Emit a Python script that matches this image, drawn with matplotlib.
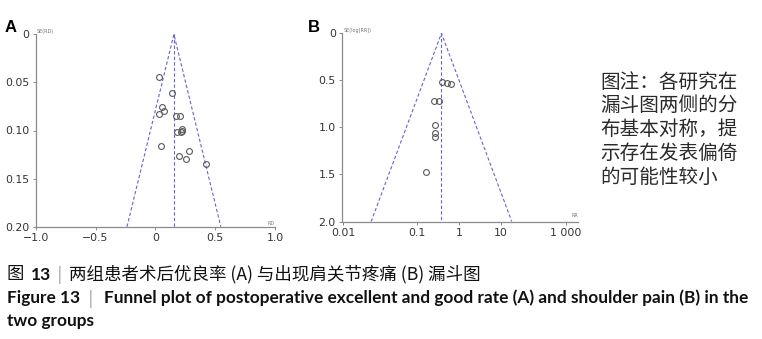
import matplotlib
matplotlib.use("Agg")
import matplotlib.pyplot as plt
import numpy as np

# ---------------- data ----------------
# Panel A: risk difference (RD) vs SE(RD)
rd_values = [0.034, 0.143, 0.057, 0.069, 0.034, 0.171, 0.206, 0.220, 0.223,
             0.214, 0.180, 0.046, 0.280, 0.194, 0.257, 0.420]
rd_se = [0.044, 0.061, 0.076, 0.080, 0.083, 0.085, 0.085, 0.098, 0.100,
         0.102, 0.102, 0.116, 0.121, 0.127, 0.130, 0.135]
rd_pooled = 0.155
a_yticks = [0, 0.05, 0.10, 0.15, 0.20]
a_yticklabels = ["0", "0.05", "0.10", "0.15", "0.20"]
a_xticks = [-1.0, -0.5, 0, 0.5, 1.0]
a_xticklabels = ["\u22121.0", "\u22120.5", "0", "0.5", "1.0"]

# Panel B: risk ratio (RR) vs SE(log[RR])
rr_values = [0.378, 0.49, 0.63, 0.238, 0.315, 0.265, 0.265, 0.265, 0.16]
rr_se = [0.522, 0.533, 0.544, 0.722, 0.722, 0.970, 1.060, 1.100, 1.475]
rr_pooled = 0.37
b_yticks = [0, 0.5, 1.0, 1.5, 2.0]
b_yticklabels = ["0", "0.5", "1.0", "1.5", "2.0"]
b_xticklabels = ["0.01", "0.1", "1", "10", "1 000"]

note_lines = ["图注：各研究在", "漏斗图两侧的分", "布基本对称，提",
              "示存在发表偏倚", "的可能性较小"]

# ---------------- style ----------------
W, H = 762, 339
fig = plt.figure(figsize=(W / 100, H / 100), dpi=100)
fig.patch.set_facecolor("white")

spine_c = "#8a8a8a"
tick_c = "#333333"
funnel_c = "#6464d2"
pt_c = "#5a5a5a"


def fx(px):
    return px / W


def fy(py):
    return 1 - py / H


def style_axes(ax):
    for s in ["top", "right"]:
        ax.spines[s].set_visible(False)
    for s in ["left", "bottom"]:
        ax.spines[s].set_color(spine_c)
        ax.spines[s].set_linewidth(0.9)
    ax.tick_params(axis="both", which="both", direction="out", length=2.5,
                   width=0.7, color=spine_c, labelcolor=tick_c, labelsize=7.8,
                   pad=2)
    ax.tick_params(axis="x", which="minor", length=0)
    ax.set_facecolor("white")


# ---------------- panel A ----------------
axA = fig.add_axes([fx(35.7), fy(226.7), fx(275) - fx(35.7), fy(34.3) - fy(226.7)])
style_axes(axA)
axA.set_xlim(-1, 1)
axA.set_ylim(0.2, 0)
se_max = 0.2
axA.plot([rd_pooled - 1.96 * se_max, rd_pooled, rd_pooled + 1.96 * se_max],
         [se_max, 0, se_max], ls=(0, (3, 2)), color=funnel_c, lw=0.8)
axA.plot([rd_pooled, rd_pooled], [0, se_max], ls=(0, (3, 2)), color=funnel_c, lw=0.8)
axA.plot(rd_values, rd_se, ls="none", marker="o", ms=4.2, mfc="none",
         mec=pt_c, mew=0.8)
axA.set_xticks(a_xticks)
axA.set_xticklabels(a_xticklabels)
axA.set_yticks(a_yticks)
axA.set_yticklabels(a_yticklabels)
axA.text(0.005, 1.0, "SE(RD)", transform=axA.transAxes, fontsize=3.5,
         color="#777777", ha="left", va="bottom")
axA.text(1.0, 0.005, "RD", transform=axA.transAxes, fontsize=3.5,
         color="#777777", ha="right", va="bottom")

# ---------------- panel B ----------------
axB = fig.add_axes([fx(342), fy(221.5), fx(578) - fx(342), fy(33.3) - fy(221.5)])
style_axes(axB)
axB.set_xscale("log")
dec = 41.3  # pixels per decade
x1_px = 459.3
lo = 10 ** ((342 - x1_px) / dec)
hi = 10 ** ((578 - x1_px) / dec)
axB.set_xlim(lo, hi)
axB.set_ylim(2.0, 0)
se_max_b = 2.0
k = 1.96 * se_max_b
axB.plot([rr_pooled * np.exp(-k), rr_pooled, rr_pooled * np.exp(k)],
         [se_max_b, 0, se_max_b], ls=(0, (3, 2)), color=funnel_c, lw=0.8)
axB.plot([rr_pooled, rr_pooled], [0, se_max_b], ls=(0, (3, 2)), color=funnel_c, lw=0.8)
axB.plot(rr_values, rr_se, ls="none", marker="o", ms=4.2, mfc="none",
         mec=pt_c, mew=0.8)
b_tick_px = [343, 417.3, 459.3, 500.5, 566]
b_xticks = [10 ** ((p - x1_px) / dec) for p in b_tick_px]
axB.set_xticks(b_xticks)
axB.set_xticklabels(b_xticklabels)
axB.xaxis.set_minor_locator(matplotlib.ticker.NullLocator())
axB.set_yticks(b_yticks)
axB.set_yticklabels(b_yticklabels)
axB.text(0.005, 1.0, "SE(log[RR])", transform=axB.transAxes, fontsize=3.5,
         color="#777777", ha="left", va="bottom")
axB.text(1.0, 0.02, "RR", transform=axB.transAxes, fontsize=3.5,
         color="#777777", ha="right", va="bottom")

# panel letters
fig.text(fx(5), fy(32), "A", fontsize=12, fontweight="bold",
         family="Liberation Sans", va="baseline", ha="left")
fig.text(fx(308), fy(32), "B", fontsize=12, fontweight="bold",
         family="Liberation Sans", va="baseline", ha="left")

# ---------------- side note ----------------
cjk = ["Noto Sans CJK SC", "DejaVu Sans"]
for i, line in enumerate(note_lines):
    fig.text(fx(600), fy(87.5 + i * 23.75), line, fontsize=14.1, family=cjk,
             color="#2a2a2a", va="baseline", ha="left")

# ---------------- caption ----------------
lat = ["Lato", "DejaVu Sans"]
fig.text(fx(7), fy(279.5), "图", fontsize=12.5, family=cjk, color="#111111",
         va="baseline", ha="left")
fig.text(fx(31), fy(279.5), "13", fontsize=12.5, family=lat, fontweight="bold",
         color="#111111", va="baseline", ha="left")
fig.text(fx(57), fy(279.5), "|", fontsize=12, family="DejaVu Sans",
         color="#b0b0b0", va="baseline", ha="left")
fig.text(fx(69), fy(279.5), "两组患者术后优良率 (A) 与出现肩关节疼痛 (B) 漏斗图",
         fontsize=12.6, family=cjk, color="#111111", va="baseline", ha="left")

fig.text(fx(7), fy(303.5), "Figure 13", fontsize=12.45, family=lat,
         fontweight="bold", color="#111111", va="baseline", ha="left")
fig.text(fx(88), fy(303.5), "|", fontsize=12, family="DejaVu Sans",
         color="#b0b0b0", va="baseline", ha="left")
fig.text(fx(104), fy(303.5),
         "Funnel plot of postoperative excellent and good rate (A) and shoulder pain (B) in the",
         fontsize=12.45, family=lat, fontweight="bold", color="#111111",
         va="baseline", ha="left")
fig.text(fx(7), fy(326), "two groups", fontsize=12.45, family=lat,
         fontweight="bold", color="#111111", va="baseline", ha="left")

fig.savefig("out.png", dpi=100, facecolor="white")
